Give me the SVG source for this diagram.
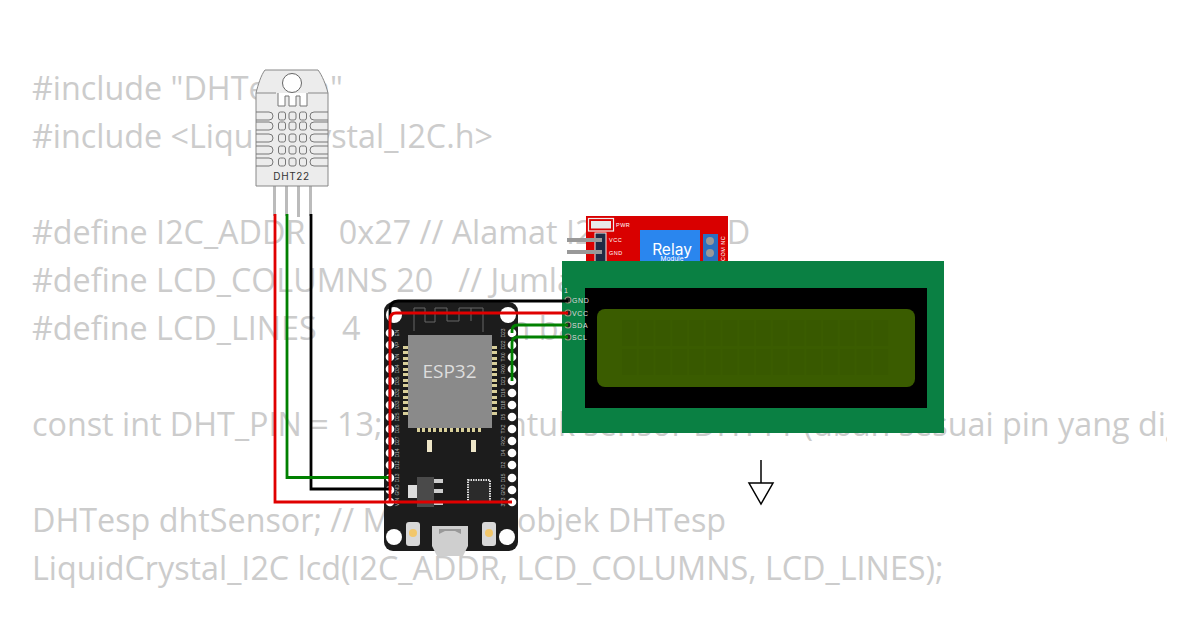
<svg xmlns="http://www.w3.org/2000/svg" width="1200" height="630" viewBox="0 0 1200 630">
<style>
.code{font-family:"Open Sans",sans-serif;font-size:32.3px;fill:#cccccc;white-space:pre}
.pl{font-family:"Liberation Sans",sans-serif;font-size:5px;fill:#b5b5b5;text-anchor:middle}
.lcdp{font-family:"Liberation Sans",sans-serif;font-size:7px;fill:#dddddd;letter-spacing:.6px}
.rl{font-family:"Liberation Sans",sans-serif;font-size:5.500px;fill:#ffffff;letter-spacing:.5px}
.hole{fill:#ffffff}
.w{fill:none;stroke-width:2.800}
.vent{fill:none;stroke:#777777;stroke-width:1}
.pad{fill:#d8cf9a}
</style>
<defs>
<clipPath id="c"><rect x="0" y="0" width="1167" height="630"/></clipPath>
<pattern id="cells" x="622" y="320" width="16.750" height="29" patternUnits="userSpaceOnUse"><rect width="15" height="26" fill="#385900"/></pattern>
</defs>
<rect width="1200" height="630" fill="#ffffff"/>
<g clip-path="url(#c)">
<text class="code" x="32" y="100">#include "DHTesp.h"</text>
<text class="code" x="32" y="148">#include &lt;LiquidCrystal_I2C.h&gt;</text>
<text class="code" x="32" y="244">#define I2C_ADDR    0x27 // Alamat I2C dari LCD</text>
<text class="code" x="32" y="292">#define LCD_COLUMNS 20   // Jumlah kolom LCD</text>
<text class="code" x="32" y="340">#define LCD_LINES   4    // Jumlah baris LCD</text>
<text class="code" x="32" y="436">const int DHT_PIN = 13;  // Pin untuk sensor DHT11 (ubah sesuai pin yang digunakan)</text>
<text class="code" x="32" y="532">DHTesp dhtSensor; // Membuat objek DHTesp</text>
<text class="code" x="32" y="580">LiquidCrystal_I2C lcd(I2C_ADDR, LCD_COLUMNS, LCD_LINES);</text>
</g>
<g id="relay">
<rect x="586" y="216" width="142" height="50" fill="#d90000"/>
<rect x="588.500" y="218.500" width="25" height="12.500" fill="none" stroke="#eeeeee" stroke-width="1.200"/>
<rect x="591" y="221" width="20" height="7.500" fill="#e8e8e8"/>
<text class="rl" x="616" y="227">PWR</text>
<rect x="595" y="233" width="11" height="32" fill="#1f2a44" stroke="#eeeeee" stroke-width="1"/>
<rect x="567" y="238" width="35" height="4" fill="#999999"/>
<rect x="567" y="250" width="35" height="4" fill="#999999"/>
<text class="rl" x="609" y="242">VCC</text>
<text class="rl" x="609" y="255">GND</text>
<rect x="640" y="230" width="60" height="36" fill="#2a86ee"/>
<text x="672" y="255" text-anchor="middle" font-family="Inter,sans-serif" font-size="15.500" fill="#ffffff">Relay</text>
<text x="672" y="261" text-anchor="middle" font-family="Inter,sans-serif" font-size="6.500" fill="#ffffff">Module</text>
<rect x="703" y="234" width="15" height="30" fill="#2a6fc0"/>
<circle cx="710" cy="241" r="4" fill="#999999"/>
<circle cx="710" cy="253" r="4" fill="#999999"/>
<text class="rl" transform="translate(725,261) rotate(-90)">COM NC</text>
</g>
<g id="lcd">
<rect x="562" y="261" width="382" height="172" fill="#0a8043"/>
<rect x="585" y="288" width="342" height="120" fill="#000000"/>
<rect x="597" y="309" width="318" height="78" rx="8" fill="#3a5c00"/>
<rect x="622" y="320" width="268" height="55" fill="url(#cells)"/>
<text class="lcdp" x="564" y="293">1</text>
<g fill="#222222" stroke="#a09a80" stroke-width="1.200">
<circle cx="568" cy="300" r="3"/><circle cx="568" cy="313" r="3"/><circle cx="568" cy="325" r="3"/><circle cx="568" cy="337" r="3"/>
</g>
<text class="lcdp" x="572" y="303">GND</text>
<text class="lcdp" x="572" y="315.500">VCC</text>
<text class="lcdp" x="572" y="327.500">SDA</text>
<text class="lcdp" x="572" y="340">SCL</text>
</g>
<g id="esp32">
<rect x="384" y="302" width="134" height="249" rx="9" fill="#1c1c1c"/>
<path d="M414 331V308H425V322H435V308H447V321H459V308H471V321M471 308H483V332" fill="none" stroke="#666666" stroke-width="1"/>
<rect x="408" y="335" width="84" height="93" fill="#8a8a8a"/>
<text x="449.500" y="378" text-anchor="middle" font-family="Open Sans,sans-serif" font-size="19" fill="#dddddd">ESP32</text>
<rect class="pad" x="403" y="346" width="5" height="3"/><rect class="pad" x="403" y="351" width="5" height="3"/><rect class="pad" x="403" y="357" width="5" height="3"/><rect class="pad" x="403" y="362" width="5" height="3"/><rect class="pad" x="403" y="368" width="5" height="3"/><rect class="pad" x="403" y="373" width="5" height="3"/><rect class="pad" x="403" y="379" width="5" height="3"/><rect class="pad" x="403" y="384" width="5" height="3"/><rect class="pad" x="403" y="390" width="5" height="3"/><rect class="pad" x="403" y="396" width="5" height="3"/><rect class="pad" x="403" y="401" width="5" height="3"/><rect class="pad" x="403" y="407" width="5" height="3"/><rect class="pad" x="403" y="412" width="5" height="3"/>
<rect class="pad" x="492" y="346" width="5" height="3"/><rect class="pad" x="492" y="351" width="5" height="3"/><rect class="pad" x="492" y="357" width="5" height="3"/><rect class="pad" x="492" y="362" width="5" height="3"/><rect class="pad" x="492" y="368" width="5" height="3"/><rect class="pad" x="492" y="373" width="5" height="3"/><rect class="pad" x="492" y="379" width="5" height="3"/><rect class="pad" x="492" y="384" width="5" height="3"/><rect class="pad" x="492" y="390" width="5" height="3"/><rect class="pad" x="492" y="396" width="5" height="3"/><rect class="pad" x="492" y="401" width="5" height="3"/><rect class="pad" x="492" y="407" width="5" height="3"/><rect class="pad" x="492" y="412" width="5" height="3"/>
<rect class="pad" x="417" y="428" width="3" height="4"/><rect class="pad" x="422" y="428" width="3" height="4"/><rect class="pad" x="428" y="428" width="3" height="4"/><rect class="pad" x="433" y="428" width="3" height="4"/><rect class="pad" x="439" y="428" width="3" height="4"/><rect class="pad" x="444" y="428" width="3" height="4"/><rect class="pad" x="450" y="428" width="3" height="4"/><rect class="pad" x="456" y="428" width="3" height="4"/><rect class="pad" x="461" y="428" width="3" height="4"/><rect class="pad" x="467" y="428" width="3" height="4"/><rect class="pad" x="472" y="428" width="3" height="4"/><rect class="pad" x="478" y="428" width="3" height="4"/>
<rect x="427" y="440" width="5" height="12" fill="#eee6c8"/>
<rect x="471" y="440" width="5" height="12" fill="#eee6c8"/>
<rect x="417" y="477" width="17" height="30" fill="#4a4a4a"/>
<rect x="408" y="485" width="9" height="13" fill="#dddddd"/>
<rect x="434" y="479" width="9" height="4" fill="#cccccc"/><rect x="434" y="489" width="9" height="4" fill="#cccccc"/><rect x="434" y="501" width="9" height="4" fill="#cccccc"/>
<rect x="468" y="480" width="22" height="22" fill="#2b2b2b" stroke="#dddddd" stroke-width="2" stroke-dasharray="1.500 1"/>
<g class="hole">
<circle cx="390" cy="333" r="4.300"/><circle cx="390" cy="345" r="4.300"/><circle cx="390" cy="357" r="4.300"/><circle cx="390" cy="369" r="4.300"/><circle cx="390" cy="381" r="4.300"/><circle cx="390" cy="393" r="4.300"/><circle cx="390" cy="405" r="4.300"/><circle cx="390" cy="417" r="4.300"/><circle cx="390" cy="429" r="4.300"/><circle cx="390" cy="441" r="4.300"/><circle cx="390" cy="453" r="4.300"/><circle cx="390" cy="465" r="4.300"/><circle cx="390" cy="478" r="4.300"/><circle cx="390" cy="490" r="4.300"/><circle cx="390" cy="502" r="4.300"/>
<circle cx="512" cy="333" r="4.300"/><circle cx="512" cy="345" r="4.300"/><circle cx="512" cy="357" r="4.300"/><circle cx="512" cy="369" r="4.300"/><circle cx="512" cy="381" r="4.300"/><circle cx="512" cy="393" r="4.300"/><circle cx="512" cy="405" r="4.300"/><circle cx="512" cy="417" r="4.300"/><circle cx="512" cy="429" r="4.300"/><circle cx="512" cy="441" r="4.300"/><circle cx="512" cy="453" r="4.300"/><circle cx="512" cy="465" r="4.300"/><circle cx="512" cy="478" r="4.300"/><circle cx="512" cy="490" r="4.300"/><circle cx="512" cy="502" r="4.300"/>
<circle cx="394" cy="315" r="8"/><circle cx="508" cy="315" r="8"/><circle cx="394" cy="537" r="8"/><circle cx="507" cy="537" r="8"/>
</g>
<g class="pl">
<text transform="translate(399,333) rotate(-90)">EN</text><text transform="translate(399,345) rotate(-90)">VP</text><text transform="translate(399,357) rotate(-90)">VN</text><text transform="translate(399,369) rotate(-90)">D34</text><text transform="translate(399,381) rotate(-90)">D35</text><text transform="translate(399,393) rotate(-90)">D32</text><text transform="translate(399,405) rotate(-90)">D33</text><text transform="translate(399,417) rotate(-90)">D25</text><text transform="translate(399,429) rotate(-90)">D26</text><text transform="translate(399,441) rotate(-90)">D27</text><text transform="translate(399,453) rotate(-90)">D14</text><text transform="translate(399,465) rotate(-90)">D12</text><text transform="translate(399,478) rotate(-90)">D13</text><text transform="translate(399,490) rotate(-90)">GND</text><text transform="translate(399,502) rotate(-90)">VIN</text>
<text transform="translate(505,333) rotate(-90)">D23</text><text transform="translate(505,345) rotate(-90)">D22</text><text transform="translate(505,357) rotate(-90)">TX0</text><text transform="translate(505,369) rotate(-90)">RX0</text><text transform="translate(505,381) rotate(-90)">D21</text><text transform="translate(505,393) rotate(-90)">D19</text><text transform="translate(505,405) rotate(-90)">D18</text><text transform="translate(505,417) rotate(-90)">D5</text><text transform="translate(505,429) rotate(-90)">TX2</text><text transform="translate(505,441) rotate(-90)">RX2</text><text transform="translate(505,453) rotate(-90)">D4</text><text transform="translate(505,465) rotate(-90)">D2</text><text transform="translate(505,478) rotate(-90)">D15</text><text transform="translate(505,490) rotate(-90)">GND</text><text transform="translate(505,502) rotate(-90)">3V3</text>
</g>
<rect x="406" y="522" width="14" height="24" rx="3" fill="#d8d8d8"/><circle cx="413" cy="533" r="4" fill="#f2c76b"/>
<rect x="482" y="522" width="14" height="24" rx="3" fill="#d8d8d8"/><circle cx="489" cy="533" r="4" fill="#f2c76b"/>
<path d="M432 526H468V546L463 556H437L432 546Z" fill="#cfcfcf"/>
<path d="M439 534V529H461V534L455 531H445Z" fill="#999999"/>
</g>
<g id="dht22">
<rect x="273" y="186" width="3" height="30" fill="#bbbbbb"/><rect x="285" y="186" width="3" height="30" fill="#bbbbbb"/><rect x="297" y="186" width="3" height="31" fill="#bbbbbb"/><rect x="309" y="186" width="3" height="30" fill="#bbbbbb"/>
<path d="M265 70H318C322 75 326 85 328 93V186H256V93C258 85 261 75 265 70Z" fill="#ececec" stroke="#888888"/>
<path d="M256 93H276M308 93H328" fill="none" stroke="#888888"/>
<circle cx="292" cy="83" r="9.500" fill="#ffffff" stroke="#666666"/>
<path d="M278 93V106H285V96H289V106H296V96H300V106H307V93" fill="#ffffff" stroke="#777777"/>
<g class="vent" fill="#ffffff">
<path d="M256 112H269Q273 112 273 116Q273 120 269 120H256M328 112H314Q310 112 310 116Q310 120 314 120H328"/>
<path d="M256 122H269Q273 122 273 126Q273 130 269 130H256M328 122H314Q310 122 310 126Q310 130 314 130H328"/>
<path d="M256 134H269Q273 134 273 138Q273 142 269 142H256M328 134H314Q310 134 310 138Q310 142 314 142H328"/>
<path d="M256 146H269Q273 146 273 150Q273 154 269 154H256M328 146H314Q310 146 310 150Q310 154 314 154H328"/>
<path d="M256 158H269Q273 158 273 162Q273 166 269 166H256M328 158H314Q310 158 310 162Q310 166 314 166H328"/>
<rect x="278.500" y="112" width="7" height="8" rx="2"/><rect x="289" y="112" width="7" height="8" rx="2"/><rect x="299.500" y="112" width="7" height="8" rx="2"/>
<rect x="278.500" y="122" width="7" height="8" rx="2"/><rect x="289" y="122" width="7" height="8" rx="2"/><rect x="299.500" y="122" width="7" height="8" rx="2"/>
<rect x="278.500" y="134" width="7" height="8" rx="2"/><rect x="289" y="134" width="7" height="8" rx="2"/><rect x="299.500" y="134" width="7" height="8" rx="2"/>
<rect x="278.500" y="146" width="7" height="8" rx="2"/><rect x="289" y="146" width="7" height="8" rx="2"/><rect x="299.500" y="146" width="7" height="8" rx="2"/>
<rect x="278.500" y="158" width="7" height="8" rx="2"/><rect x="289" y="158" width="7" height="8" rx="2"/><rect x="299.500" y="158" width="7" height="8" rx="2"/>
</g>
<text x="291.500" y="180" text-anchor="middle" font-family="Inter,sans-serif" font-size="10" fill="#333333" letter-spacing=".6">DHT22</text>
</g>
<g id="connectors">
<path class="w" stroke="#000000" d="M311 214V489H390"/>
<path class="w" stroke="#008000" d="M287 214V477.500H390"/>
<path class="w" stroke="#e00000" d="M275 214V502H512"/>
<path class="w" stroke="#000000" d="M390 490V310Q390 301 398 301H568"/>
<path class="w" stroke="#e00000" d="M390 502V320Q390 313 396 313H568"/>
<path class="w" stroke="#008000" d="M512 333V331Q512 325 518 325H568"/>
<path class="w" stroke="#008000" d="M512 381V343Q512 337 518 337H568"/>
</g>
<g id="gnd-symbol">
<path d="M761 460V483" fill="none" stroke="#000000" stroke-width="1.500"/>
<path d="M749 483H773L761 504Z" fill="#ffffff" stroke="#000000" stroke-width="1.500"/>
</g>
</svg>
